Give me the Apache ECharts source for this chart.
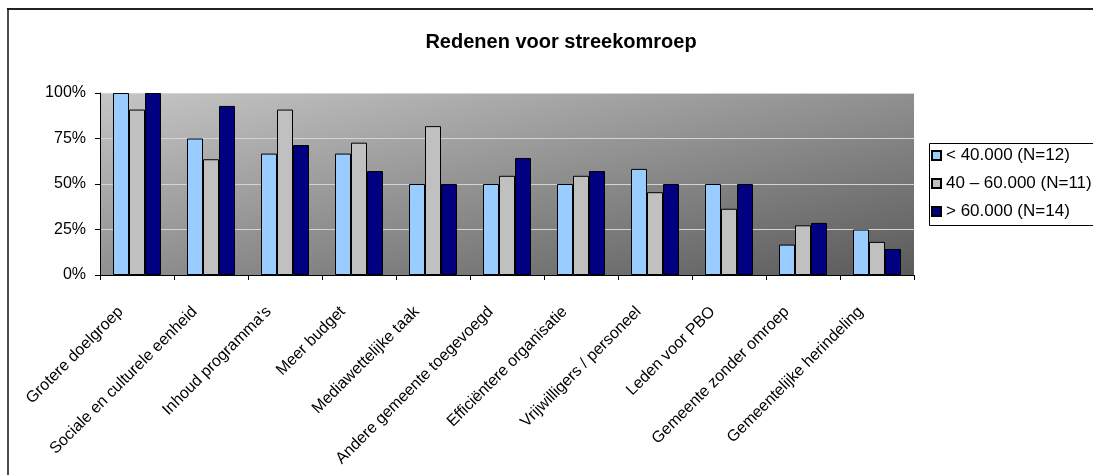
<!DOCTYPE html>
<html lang="nl">
<head>
<meta charset="utf-8">
<title>Redenen voor streekomroep</title>
<script src="https://cdn.jsdelivr.net/npm/echarts@6/dist/echarts.min.js"></script>
<style>
  html, body { margin: 0; padding: 0; background: #fff; }
  #myChart { width: 1093px; height: 475px; }
</style>
</head>
<body>
<div id="myChart"></div>
<script>
// categorieen en percentages per gemeentegrootte
var categories = ['Grotere doelgroep', 'Sociale en culturele eenheid', "Inhoud programma's", 'Meer budget',
  'Mediawettelijke taak', 'Andere gemeente toegevoegd', 'Efficiëntere organisatie', 'Vrijwilligers / personeel',
  'Leden voor PBO', 'Gemeente zonder omroep', 'Gemeentelijke herindeling'];
var seriesNames = ['< 40.000 (N=12)', '40 – 60.000 (N=11)', '> 60.000 (N=14)'];
var klein = [100, 75, 66.7, 66.7, 50, 50, 50, 58.3, 50, 16.7, 25];
var midden = [90.9, 63.6, 90.9, 72.7, 81.8, 54.5, 54.5, 45.5, 36.4, 27.3, 18.2];
var groot = [100, 92.9, 71.4, 57.1, 50, 64.3, 57.1, 50, 50, 28.6, 14.3];
var yTicks = [0, 25, 50, 75, 100];

var colors = ['#99CCFF', '#C0C0C0', '#000080'];
var font = 'Liberation Sans, Arial, sans-serif';

var myChart = echarts.init(document.getElementById('myChart'));

function bar(name, data, i) {
  return {
    name: name,
    type: 'bar',
    data: data,
    barWidth: 16,
    barGap: '0%',
    itemStyle: { color: colors[i], borderColor: '#000', borderWidth: 1 }
  };
}

var option = {
  animation: false,
  textStyle: { fontFamily: font },
  title: {
    text: 'Redenen voor streekomroep',
    left: 556, top: 27, textAlign: 'center',
    textStyle: { fontSize: 20, fontWeight: 'bold', color: '#000', fontFamily: font }
  },
  graphic: [
    // rand van het kaartvlak (rechts en onder vallen buiten beeld)
    { type: 'line', shape: { x1: 7, y1: 9, x2: 1093, y2: 9 }, style: { stroke: '#222', lineWidth: 2 }, silent: true },
    { type: 'line', shape: { x1: 8, y1: 8, x2: 8, y2: 475 }, style: { stroke: '#111', lineWidth: 1.5 }, silent: true },
    // legendakader
    { type: 'line', shape: { x1: 929.5, y1: 143.5, x2: 1093, y2: 143.5 }, style: { stroke: '#000', lineWidth: 1 }, silent: true },
    { type: 'line', shape: { x1: 929.5, y1: 225.5, x2: 1093, y2: 225.5 }, style: { stroke: '#000', lineWidth: 1 }, silent: true },
    { type: 'line', shape: { x1: 929.5, y1: 143.5, x2: 929.5, y2: 225.5 }, style: { stroke: '#000', lineWidth: 1 }, silent: true }
  ],
  legend: {
    orient: 'vertical',
    left: 931, top: 147,
    padding: 0,
    itemWidth: 9, itemHeight: 9,
    itemGap: 11,
    icon: 'rect',
    textStyle: { fontSize: 17, color: '#000', fontFamily: font },
    data: seriesNames
  },
  grid: {
    left: 100, right: 179, top: 93, bottom: 200,
    show: true,
    borderWidth: 0,
    backgroundColor: {
      type: 'linear', global: true,
      x: 100, y: 93, x2: 177.5, y2: 439.6,
      colorStops: [{ offset: 0, color: '#c6c6c6' }, { offset: 1, color: '#5a5a5a' }]
    }
  },
  xAxis: {
    type: 'category',
    data: categories,
    axisLine: { lineStyle: { color: '#000', width: 1 } },
    axisTick: { show: true, length: 5, lineStyle: { color: '#000' } },
    axisLabel: { rotate: 45, margin: 18, padding: [0, 23, 0, 0], fontSize: 16, color: '#000', fontFamily: font, interval: 0 }
  },
  yAxis: {
    type: 'value',
    min: yTicks[0], max: yTicks[yTicks.length - 1], interval: 25,
    axisLine: { show: true, lineStyle: { color: '#000', width: 1 } },
    axisTick: { show: true, length: 5, lineStyle: { color: '#000' } },
    axisLabel: { formatter: '{value}%', fontSize: 16, color: '#000', margin: 14, fontFamily: font },
    splitLine: { show: true, lineStyle: { color: '#d4d4d4', width: 1 } }
  },
  series: [
    bar(seriesNames[0], klein, 0),
    bar(seriesNames[1], midden, 1),
    bar(seriesNames[2], groot, 2)
  ]
};
myChart.setOption(option);
</script>
</body>
</html>
